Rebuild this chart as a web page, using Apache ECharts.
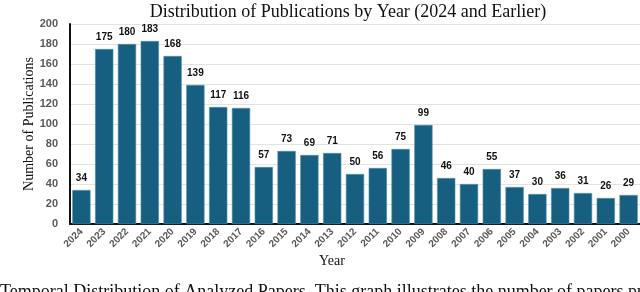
<!DOCTYPE html>
<html><head><meta charset="utf-8">
<script src="https://cdn.jsdelivr.net/npm/echarts@6/dist/echarts.min.js"></script>
<style>html,body{margin:0;padding:0;background:#fff}#c{width:640px;height:292px}</style>
</head><body><div id="c"></div>
<script>
const years = ['2024','2023','2022','2021','2020','2019','2018','2017','2016','2015','2014','2013','2012','2011','2010','2009','2008','2007','2006','2005','2004','2003','2002','2001','2000'];
const counts = [34,175,180,183,168,139,117,116,57,73,69,71,50,56,75,99,46,40,55,37,30,36,31,26,29];
const yTicks = [0,20,40,60,80,100,120,140,160,180,200];
const titleText = 'Distribution of Publications by Year (2024 and Earlier)';
const captionText = 'Temporal Distribution of Analyzed Papers. This graph illustrates the number of papers published';

const chart = echarts.init(document.getElementById('c'), null, {renderer:'canvas'});
chart.setOption({
  animation:false,
  title:{text:titleText,left:343,textAlign:'center',top:-2,textStyle:{fontFamily:'Liberation Serif',fontWeight:'normal',fontSize:18,color:'#111'}},
  grid:{left:70,right:0,top:24,bottom:68},
  xAxis:{type:'category',data:years,name:'Year',nameLocation:'middle',nameGap:30,nameMoveOverlap:false,
    nameTextStyle:{fontFamily:'Liberation Serif',fontSize:14,color:'#111',padding:[0,46,0,0]},
    axisLine:{lineStyle:{color:'#111',width:2}},axisTick:{show:false},
    axisLabel:{rotate:45,interval:0,fontFamily:'Liberation Sans',fontWeight:'bold',fontSize:10,color:'#595959',margin:6}},
  yAxis:{type:'value',min:0,max:200,interval:20,name:'Number of Publications',nameLocation:'middle',nameGap:34,nameMoveOverlap:false,
    nameTextStyle:{fontFamily:'Liberation Serif',fontSize:14,color:'#111'},
    axisLine:{show:true,lineStyle:{color:'#111',width:2}},axisTick:{show:false},
    splitLine:{lineStyle:{color:'#e3e3e3',width:1}},
    axisLabel:{fontFamily:'Liberation Sans',fontWeight:'bold',fontSize:11,color:'#595959',margin:12,
      formatter:v=>yTicks.includes(v)?String(v):''}},
  series:[{type:'bar',data:counts,barCategoryGap:'20%',
    itemStyle:{color:'#175f80',borderColor:'#4f8fab',borderWidth:0.6},
    label:{show:true,position:'top',distance:7,fontFamily:'Liberation Sans',fontWeight:'bold',fontSize:10,color:'#111'}}],
  graphic:[{type:'text',left:0,top:283,style:{text:captionText,font:'18px "Liberation Serif"',fill:'#111'}}]
});
</script></body></html>
